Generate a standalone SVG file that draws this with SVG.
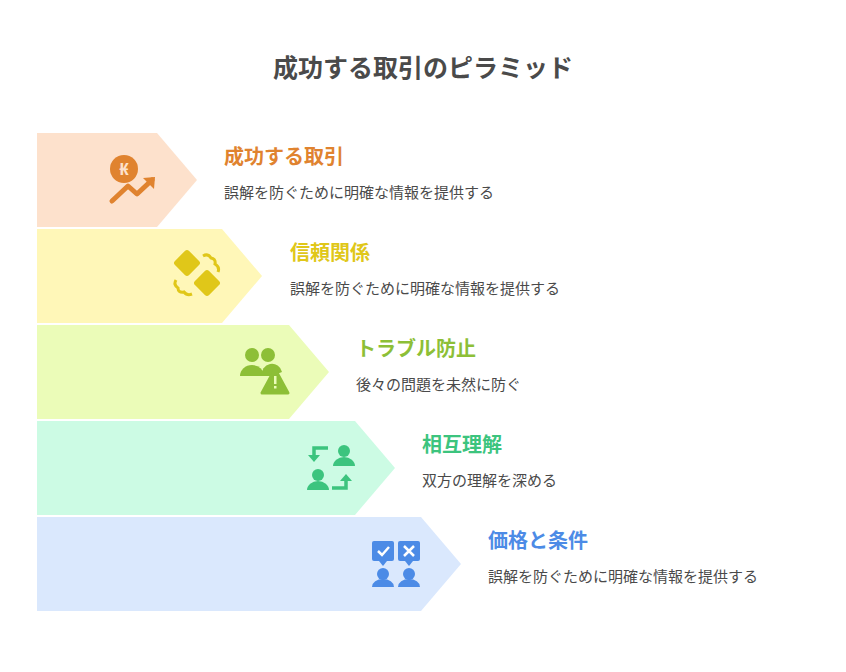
<svg xmlns="http://www.w3.org/2000/svg" width="846" height="672" viewBox="0 0 846 672">
<style>
text{font-family:"Noto Sans CJK JP","Noto Sans",sans-serif}
.h{font-size:20px;font-weight:bold}
.d{font-size:15px;fill:#4a4a4a}
</style>
<rect width="846" height="672" fill="#fff"/>
<text x="423" y="77" text-anchor="middle" font-size="25" font-weight="bold" fill="#4a4a4a">成功する取引のピラミッド</text>
<g id="n1">
<polygon points="37,133 157,133 197,180 157,227 37,227" fill="#FDE1CC"/>
<circle cx="124" cy="169" r="14" fill="#E0832F"/>
<text x="124" y="175" text-anchor="middle" font-size="16" font-weight="bold" fill="#FDE1CC">₭</text>
<polyline points="112,201 128,186 137,194 152,180" fill="none" stroke="#E0832F" stroke-width="5" stroke-linecap="round" stroke-linejoin="round"/>
<polygon points="143,178 155,177 154,189" fill="#E0832F"/>
<text class="h" x="224" y="164" fill="#E0832F">成功する取引</text>
<text class="d" x="224" y="198">誤解を防ぐために明確な情報を提供する</text>
</g>
<g id="n2">
<polygon points="37,229 222,229 262,276 222,323 37,323" fill="#FFF7B8"/>
<g fill="#E0C719"><rect x="177" y="253" width="20" height="20" rx="3" transform="rotate(45 187 263)"/><rect x="197" y="273" width="20" height="20" rx="3" transform="rotate(45 207 283)"/></g>
<path d="M203,256 q5,-3 8,2 q5,1 4,6 q5,3 3,8 M176,280 q-3,5 2,8 q0,5 6,4 q3,4 8,2" fill="none" stroke="#E0C719" stroke-width="3"/>
<text class="h" x="290" y="260" fill="#E0C719">信頼関係</text>
<text class="d" x="290" y="294">誤解を防ぐために明確な情報を提供する</text>
</g>
<g id="n3">
<polygon points="37,325 289,325 329,372 289,419 37,419" fill="#EBFCB8"/>
<g fill="#8DBF37"><circle cx="252" cy="355" r="7"/><circle cx="268" cy="355" r="7"/><path d="M240,376 a12,11 0 0 1 24,0 z"/><path d="M262,376 a10,10 0 0 1 20,-4 l-10,4 z"/><path d="M275,369 l13,24 h-26 z" stroke="#8DBF37" stroke-width="3" stroke-linejoin="round"/></g>
<rect x="274" y="376" width="2.5" height="8" fill="#EBFCB8"/><rect x="274" y="386" width="2.5" height="2.5" fill="#EBFCB8"/>
<text class="h" x="356" y="356" fill="#8DBF37">トラブル防止</text>
<text class="d" x="356" y="390">後々の問題を未然に防ぐ</text>
</g>
<g id="n4">
<polygon points="37,421 355,421 395,468 355,515 37,515" fill="#CCFBE4"/>
<g fill="#3CC47E"><circle cx="344" cy="451" r="6"/><path d="M333,466 a11,9 0 0 1 22,0 z"/><circle cx="318" cy="475" r="6"/><path d="M307,490 a11,9 0 0 1 22,0 z"/>
<path d="M328,448 h-14 v8" fill="none" stroke="#3CC47E" stroke-width="3.5"/><polygon points="308,455 320,455 314,462"/>
<path d="M332,488 h14 v-8" fill="none" stroke="#3CC47E" stroke-width="3.5"/><polygon points="340,481 352,481 346,474"/></g>
<text class="h" x="422" y="452" fill="#3CC47E">相互理解</text>
<text class="d" x="422" y="486">双方の理解を深める</text>
</g>
<g id="n5">
<polygon points="37,517 421,517 461,564 421,611 37,611" fill="#DAE8FD"/>
<g fill="#4C8BE6"><rect x="372" y="541" width="22" height="20" rx="2"/><polygon points="379,561 387,561 383,566"/><rect x="398" y="541" width="22" height="20" rx="2"/><polygon points="405,561 413,561 409,566"/>
<circle cx="383" cy="574" r="6"/><path d="M372,587 a11,8 0 0 1 22,0 z"/><circle cx="409" cy="574" r="6"/><path d="M398,587 a11,8 0 0 1 22,0 z"/></g>
<path d="M378,551 l4,4 l7,-8 M404,546 l10,10 M414,546 l-10,10" fill="none" stroke="#fff" stroke-width="2.5"/>
<text class="h" x="488" y="548" fill="#4C8BE6">価格と条件</text>
<text class="d" x="488" y="582">誤解を防ぐために明確な情報を提供する</text>
</g>
<g id="connectors"/>
</svg>
